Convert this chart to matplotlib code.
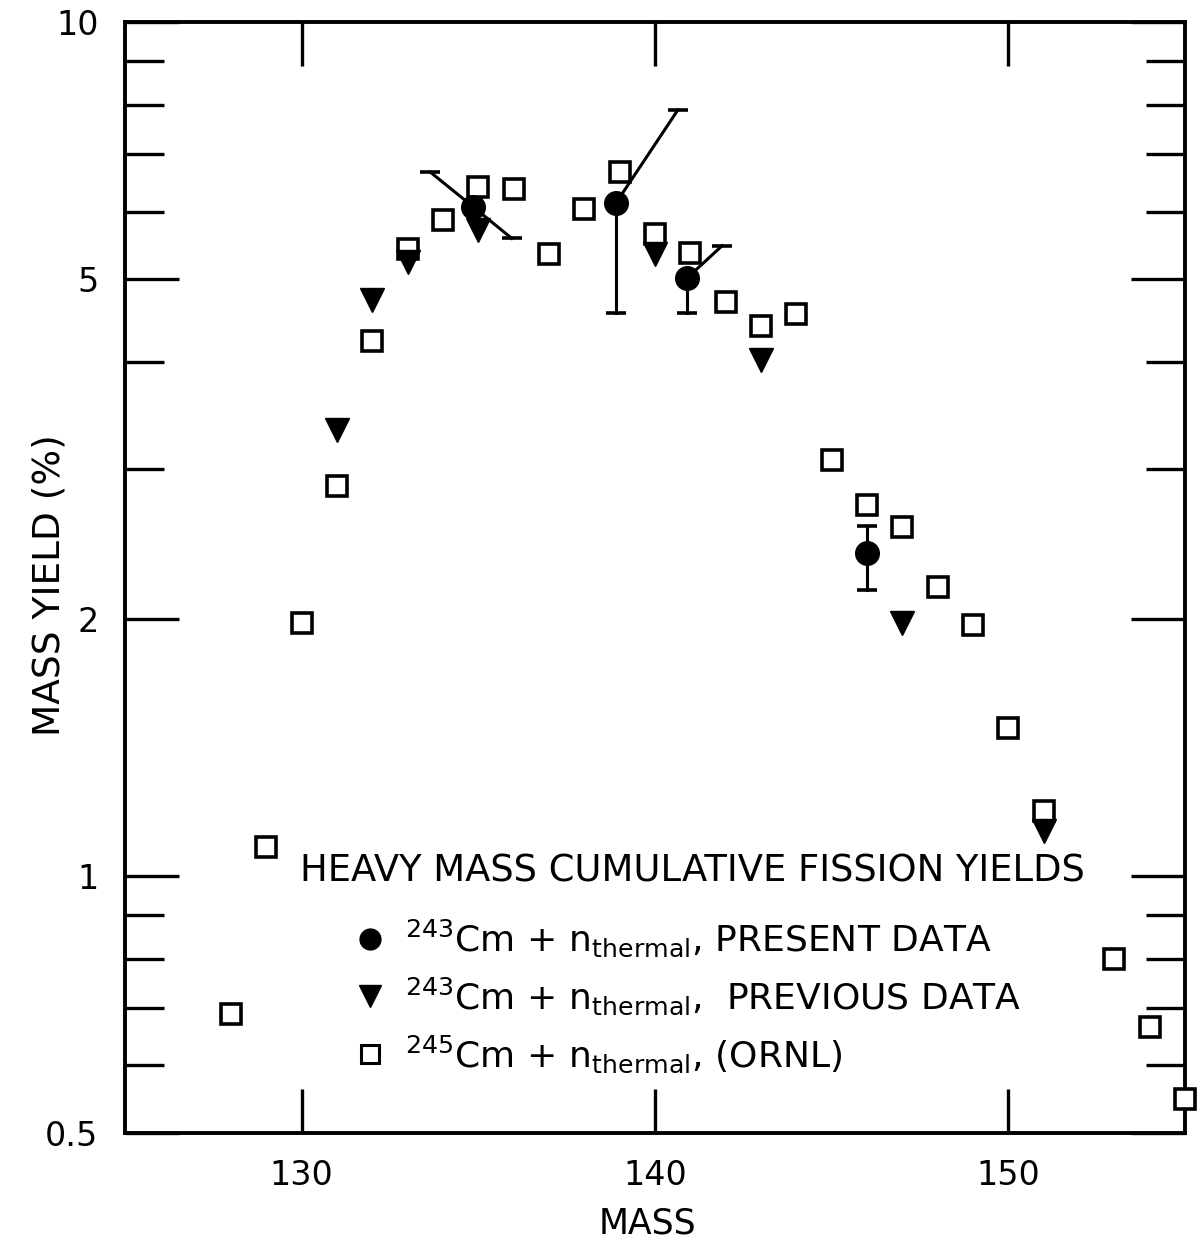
import matplotlib
matplotlib.use("Agg")
import matplotlib.pyplot as plt
from matplotlib.ticker import FixedLocator, NullFormatter
import numpy as np

# 245Cm + n_thermal (ORNL)
ornl_mass = [128, 129, 130, 131, 132, 133, 134, 135, 136, 137, 138, 139, 140, 141,
             142, 143, 144, 145, 146, 147, 148, 149, 150, 151, 153, 154, 155]
ornl_yield = [0.69, 1.08, 1.98, 2.86, 4.23, 5.43, 5.86, 6.41, 6.38, 5.35, 6.04, 6.67, 5.64, 5.37,
              4.70, 4.41, 4.55, 3.07, 2.72, 2.56, 2.18, 1.97, 1.49, 1.19, 0.80, 0.665, 0.548]

# 243Cm + n_thermal, previous data
prev_mass = [131, 132, 133, 135, 140, 143, 147, 151]
prev_yield = [3.33, 4.72, 5.24, 5.71, 5.35, 4.02, 1.98, 1.13]

# 243Cm + n_thermal, present data (error bars drawn as offset segments like the original)
pres_mass = [134.85, 138.9, 140.9, 146.0]
pres_yield = [6.08, 6.14, 5.01, 2.39]
err_lo_mass = [135.95, 138.9, 140.9, 146.0]
err_lo_yield = [5.58, 4.56, 4.56, 2.16]
err_hi_mass = [133.65, 140.65, 141.9, 146.0]
err_hi_yield = [6.67, 7.89, 5.47, 2.57]

y_major = [0.5, 1, 2, 5, 10]
y_major_labels = ["0.5", "1", "2", "5", "10"]
y_minor = [0.6, 0.7, 0.8, 0.9, 3, 4, 6, 7, 8, 9]
x_major = [130, 140, 150]

plt.rcParams["font.family"] = ["DejaVu Sans"]

fig = plt.figure(figsize=(12, 12.4), dpi=100)
ax = fig.add_axes([0.104, 0.0863, 0.8835, 0.8959])
ax.set_yscale("log")
ax.set_xlim(125, 155)
ax.set_ylim(0.5, 10)

for s in ax.spines.values():
    s.set_linewidth(2.8)

ax.yaxis.set_major_locator(FixedLocator(y_major))
ax.set_yticklabels(y_major_labels)
ax.yaxis.set_minor_locator(FixedLocator(y_minor))
ax.yaxis.set_minor_formatter(NullFormatter())
ax.set_xticks(x_major)
ax.tick_params(axis="x", which="major", direction="in", length=32, width=2.4,
               labelsize=24, top=True, pad=19)
ax.tick_params(axis="y", which="major", direction="in", length=39, width=2.4,
               labelsize=24, right=True, pad=19)
ax.tick_params(axis="y", which="minor", direction="in", length=28, width=2.4, right=True)

ax.set_xlabel("MASS", fontsize=25)
ax.xaxis.set_label_coords(0.4934, -0.066)
ax.set_ylabel("MASS YIELD (%)", fontsize=27)
ax.yaxis.set_label_coords(-0.054, 0.493)

ax.plot(ornl_mass, ornl_yield, linestyle="none", marker="s", markersize=15,
        markerfacecolor="white", markeredgecolor="black", markeredgewidth=2.6, clip_on=False,
        zorder=3)
ax.plot(prev_mass, prev_yield, linestyle="none", marker="v", markersize=17,
        color="black", zorder=4)

for i in range(len(pres_mass)):
    for em, ey in [(err_lo_mass[i], err_lo_yield[i]), (err_hi_mass[i], err_hi_yield[i])]:
        ax.plot([pres_mass[i], em], [pres_yield[i], ey], color="black", linewidth=2.2,
                marker="_", markersize=14, markeredgewidth=2.6, markevery=[1], zorder=5)
ax.plot(pres_mass, pres_yield, linestyle="none", marker="o", markersize=17,
        color="black", zorder=6)

ax.text(0.165, 0.236, "HEAVY MASS CUMULATIVE FISSION YIELDS", transform=ax.transAxes,
        fontsize=26.6, va="center", ha="left")

h1, = ax.plot([], [], linestyle="none", marker="o", markersize=15, color="black")
h2, = ax.plot([], [], linestyle="none", marker="v", markersize=16, color="black")
h3, = ax.plot([], [], linestyle="none", marker="s", markersize=13, markerfacecolor="white",
              markeredgecolor="black", markeredgewidth=2.2)
ax.legend([h1, h2, h3],
          [r"$^{243}$Cm + n$_{\rm thermal}$, PRESENT DATA",
           r"$^{243}$Cm + n$_{\rm thermal}$,  PREVIOUS DATA",
           r"$^{245}$Cm + n$_{\rm thermal}$, (ORNL)"],
          loc="upper left", bbox_to_anchor=(0.201, 0.21), frameon=False, fontsize=26,
          handlelength=0.8, handletextpad=0.55, labelspacing=0.45, borderpad=0)

fig.savefig("out.png", dpi=100)
